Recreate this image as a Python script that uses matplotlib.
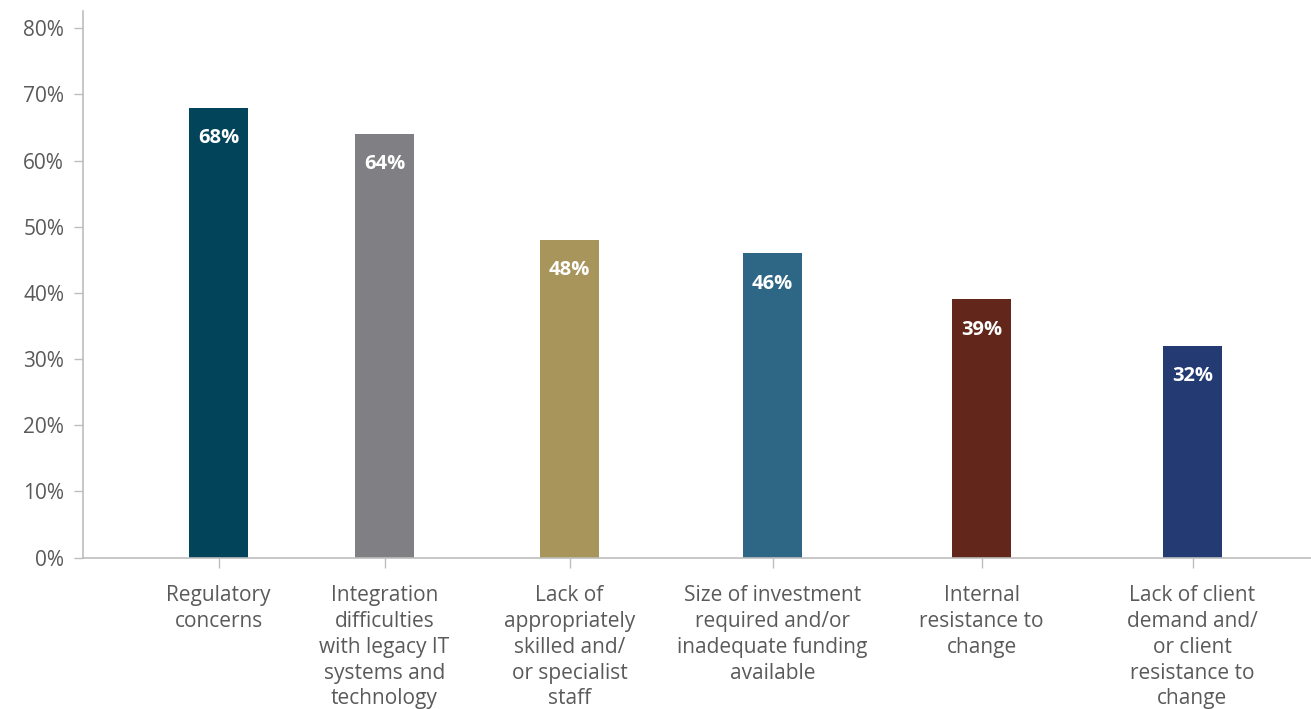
import matplotlib.pyplot as plt
from matplotlib.ticker import FuncFormatter

# survey results: share of respondents naming each barrier
categories = [
    "Regulatory\nconcerns",
    "Integration\ndifficulties\nwith legacy IT\nsystems and\ntechnology",
    "Lack of\nappropriately\nskilled and/\nor specialist\nstaff",
    "Size of investment\nrequired and/or\ninadequate funding\navailable",
    "Internal\nresistance to\nchange",
    "Lack of client\ndemand and/\nor client\nresistance to\nchange",
]
values = [68, 64, 48, 46, 39, 32]
colors = ["#024459", "#808084", "#A8955C", "#2E6785", "#62261A", "#233A73"]

# bar centres along the axis (pixel-style coordinates)
xpos = [218.5, 384.5, 569.5, 772.5, 981.5, 1192.5]

plt.rcParams['font.family'] = ['Open Sans', 'DejaVu Sans']

fig = plt.figure(figsize=(13.11, 7.09), dpi=100)
ax = fig.add_axes([83 / 1311, 1 - 557.5 / 709, (1311 - 83) / 1311, (557.5 - 11) / 709])

ax.bar(xpos, values, width=59, color=colors, zorder=2)

for x, v in zip(xpos, values):
    ax.text(x, v - 4.6, f"{v}%", ha='center', va='center', color='white',
            fontsize=14.5, fontweight='bold')

ax.set_xlim(83, 1311)
ax.set_ylim(0, 82.6)
ax.set_yticks(range(0, 81, 10))
ax.yaxis.set_major_formatter(FuncFormatter(lambda v, p: f"{int(v)}%"))
ax.set_xticks(xpos)
ax.set_xticklabels(categories, linespacing=1.3)

for s in ['top', 'right']:
    ax.spines[s].set_visible(False)
for s in ['left', 'bottom']:
    ax.spines[s].set_color('#BDBDBD')
    ax.spines[s].set_linewidth(1.2)

ax.tick_params(axis='y', length=6.5, width=1, color='#BDBDBD', pad=7,
               labelsize=15, labelcolor='#5A5A5A')
ax.tick_params(axis='x', length=7, width=1, color='#BDBDBD', pad=13,
               labelsize=15, labelcolor='#5A5A5A')

fig.savefig('out.png', dpi=100)
